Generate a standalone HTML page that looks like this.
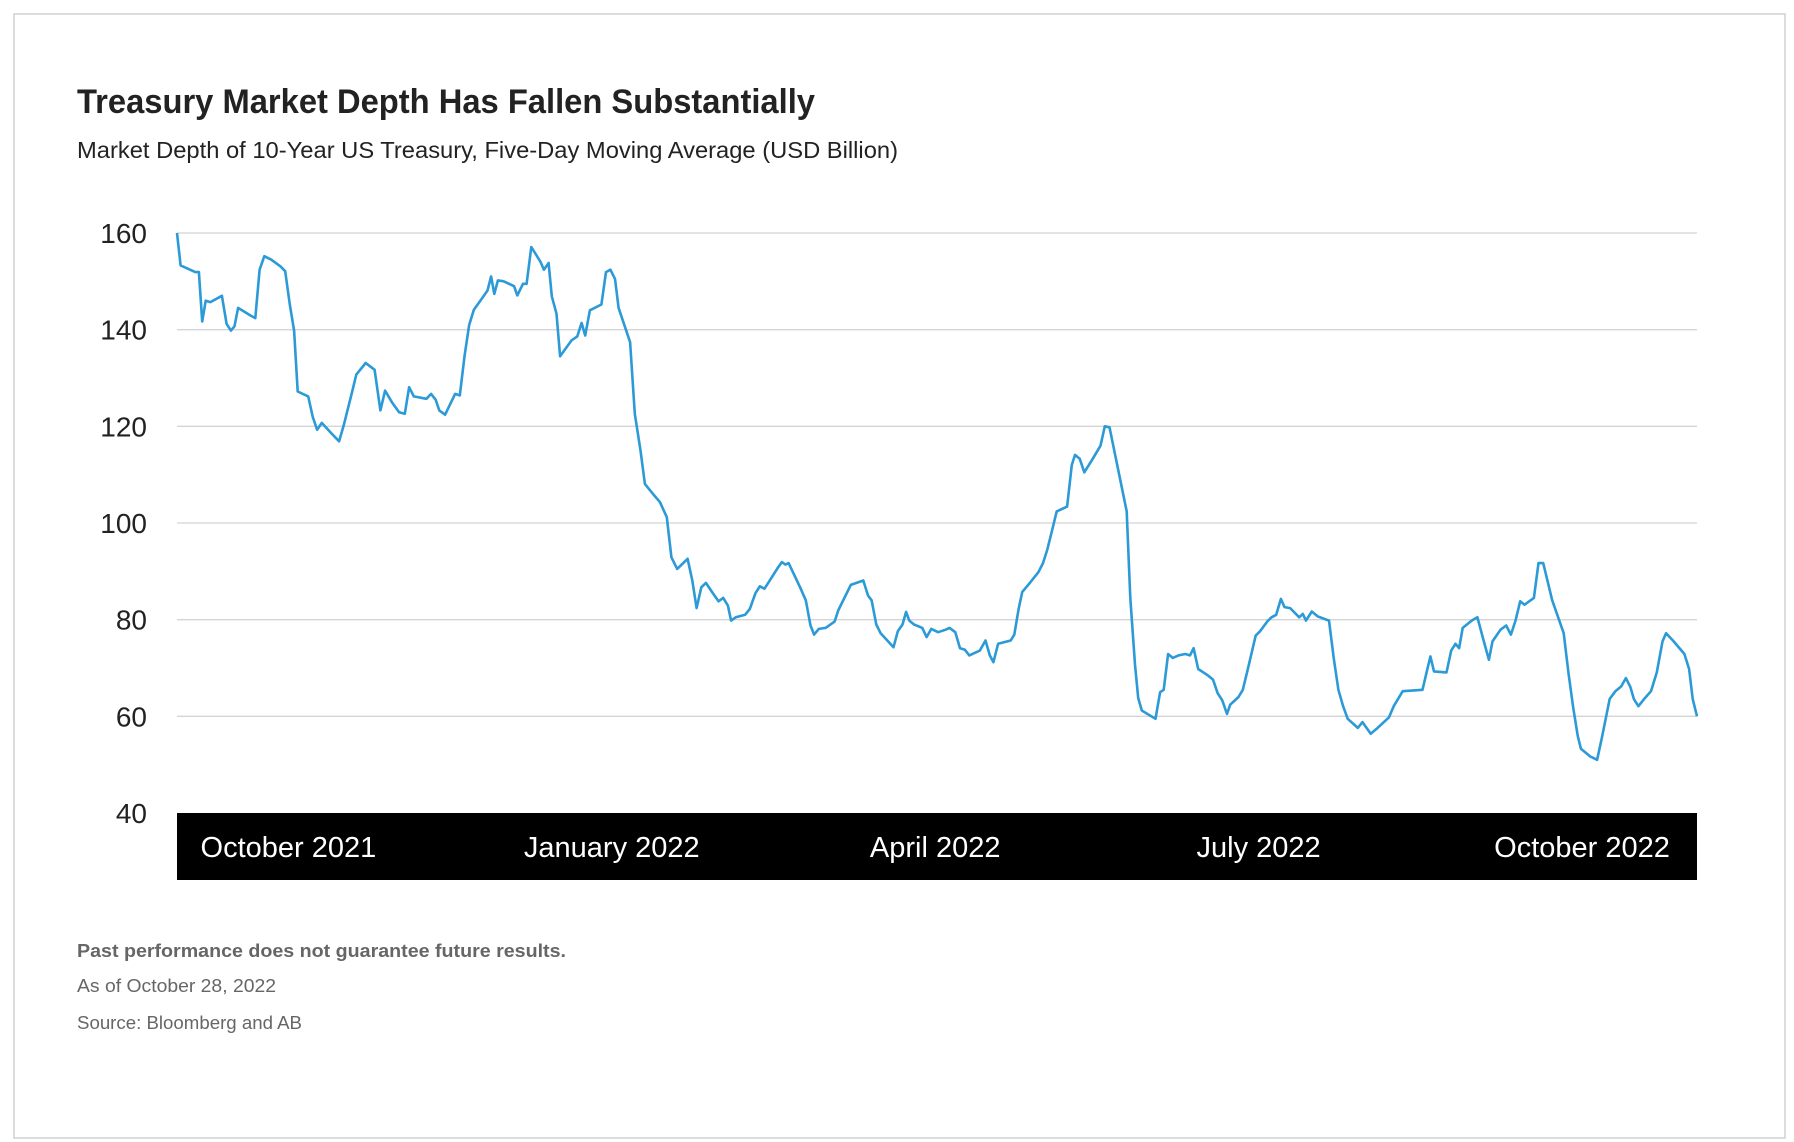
<!DOCTYPE html>
<html><head><meta charset="utf-8"><style>
html,body{margin:0;padding:0;background:#fff;}
svg{display:block;font-family:"Liberation Sans",sans-serif;}
</style></head><body>
<svg id="chart" width="1794" height="1142" viewBox="0 0 1794 1142">
<rect x="14" y="14" width="1771" height="1124" fill="#fff" stroke="#d0d0d0" stroke-width="1.5"/>
<text x="77" y="113" font-size="34" font-weight="bold" fill="#222" textLength="738" lengthAdjust="spacingAndGlyphs">Treasury Market Depth Has Fallen Substantially</text>
<text x="77" y="158" font-size="23" fill="#222" textLength="821" lengthAdjust="spacingAndGlyphs">Market Depth of 10-Year US Treasury, Five-Day Moving Average (USD Billion)</text>
<g id="grid"></g>
<g id="yaxis"></g>
<rect x="177" y="813" width="1520" height="67" fill="#000"/>
<g id="xaxis"></g>
<path id="line" fill="none" stroke="#2b9ad6" stroke-width="2.6" stroke-linejoin="round"/>
<text x="77" y="957" font-size="18" font-weight="bold" fill="#666" textLength="489" lengthAdjust="spacingAndGlyphs">Past performance does not guarantee future results.</text>
<text x="77" y="992" font-size="18" fill="#666" textLength="199" lengthAdjust="spacingAndGlyphs">As of October 28, 2022</text>
<text x="77" y="1029" font-size="18" fill="#666" textLength="225" lengthAdjust="spacingAndGlyphs">Source: Bloomberg and AB</text>
</svg>
<script>
const yTicks = [40, 60, 80, 100, 120, 140, 160];
const xLabels = ["October 2021", "January 2022", "April 2022", "July 2022", "October 2022"];
const xLabelDays = [31, 121, 211, 301, 391];
const days = [0,1,5.1,6.1,7,8,9.3,12.5,13.8,15,16,17,20.5,21.8,23,24.3,26.2,28.8,30.1,31.4,32.6,33.6,36.5,37.8,39,40.3,42.9,45.1,46.4,48.6,49.9,52.5,53.4,55,56.6,57.9,59.8,61.8,63.4,64.6,65.9,69.4,70.7,72,73,74.6,77.4,78.7,80,81.3,82.6,85.1,86.4,87.4,88.3,89.3,90.9,93.8,94.7,96.3,97.3,98.6,101.1,102.1,103.4,104.3,105.6,106.6,109.8,111.4,112.6,113.6,114.9,118.1,119.4,120.6,121.9,122.9,126.1,127.4,129,130.2,132.8,134.4,136.3,137.6,139.2,142.1,143.4,144.6,145.9,147.2,149.1,150.7,152,153.3,154.2,155.5,158.1,159.4,161,162.2,163.5,167,168.3,169.3,170.2,173.4,175,176.3,177.3,178.6,180.5,183,184,187.5,191,192.3,193.3,194.6,195.8,199.4,200.6,201.9,202.9,203.8,205.1,207.4,208.6,209.9,211.8,213.8,215,216.6,217.9,219.2,220.5,223.4,225,226.2,227.2,228.5,232,233,234.2,235.2,237.1,239.7,241,242.2,243.5,244.8,247.7,249,249.9,251.2,252.5,254.7,257,258.2,259.5,264.3,265.3,266.6,267.5,268.5,272.3,273.6,274.6,275.8,277.1,278.7,280.6,281.9,282.9,284.2,287,288.3,289.6,290.9,292.2,293.1,295.4,296.6,297.9,300.2,301.4,303.4,304.6,305.9,307.2,308.2,309.8,312.3,313.3,314.2,315.8,317.4,320.6,321.9,323.2,324.5,325.8,328.6,329.9,332.2,333.8,337.3,338.6,341.1,346.6,347.8,348.8,349.8,353.3,354.6,355.8,356.8,357.8,360.3,361.9,363.5,365.1,366.1,368.3,369.9,371.2,372.5,373.8,375,377.6,378.9,380.2,382.7,385.9,387.2,388.5,389.8,390.7,393.3,395.2,396.5,398.7,400.3,401.9,403.2,404.5,405.4,406.7,408.3,410.2,411.8,413.4,414.4,416.3,419.5,420.8,421.8,423];
const depth = [160,153.3,151.9,151.9,141.7,146,145.7,147,141.2,139.8,140.7,144.5,142.9,142.4,152.4,155.2,154.5,153.1,152.1,145.2,139.8,127.2,126.2,121.9,119.3,120.7,118.6,116.9,120.2,126.7,130.7,133.1,132.6,131.7,123.3,127.4,125,122.9,122.6,128.1,126.2,125.7,126.7,125.5,123.3,122.4,126.7,126.4,134.5,140.9,144.1,146.7,148.1,151,147.4,150.2,150,149,147.1,149.5,149.5,157.1,154.1,152.4,153.8,146.9,143.3,134.5,137.8,138.6,141.4,138.8,144,145.2,151.9,152.4,150.5,144.5,137.4,122.6,115,108.1,105.7,104.3,101.2,92.9,90.5,92.6,88.1,82.4,86.7,87.6,85.5,83.8,84.5,82.9,79.8,80.5,81,82.2,85.5,86.9,86.4,90.5,91.9,91.4,91.7,86.7,84,78.8,76.9,78.1,78.3,79.6,81.9,87.2,88.1,85,84,79,77.2,74.3,77.6,79,81.6,79.8,79,78.3,76.4,78.1,77.4,77.9,78.3,77.4,74.1,73.8,72.6,73.6,75.7,72.6,71.2,75,75.7,76.9,82.2,85.7,87.4,89.8,91.7,94.5,98.4,102.4,103.4,112,114.1,113.3,110.5,113.1,116,120,119.8,102.4,84.5,70.7,63.8,61.2,59.5,65,65.5,72.9,72.1,72.6,72.9,72.6,74.1,69.8,68.4,67.6,64.8,63.3,60.5,62.4,64,65.5,69.5,76.7,77.6,79.6,80.5,81,84.3,82.6,82.4,80.5,81.2,79.8,81.7,80.7,79.8,72.1,65.5,62.1,59.5,57.6,58.8,56.4,57.4,59.8,62.1,65.2,65.5,69.3,72.4,69.3,69.1,73.6,75,74.1,78.3,79.8,80.5,76,71.7,75.5,77.9,78.8,76.9,79.8,83.8,83.1,84.5,91.7,91.7,84,77.2,69.1,62.1,56,53.3,51.7,51,55.5,63.6,65.2,66.2,67.9,66,63.6,62.1,63.6,65.2,69.1,75.5,77.2,75.7,72.9,69.8,63.6,60];

const NS = "http://www.w3.org/2000/svg";
const X0 = 177, X1 = 1697, Y0 = 813, Y1 = 233;
const dMax = 423, vMin = 40, vMax = 160;
function xScale(d){ return X0 + (d / dMax) * (X1 - X0); }
function yScale(v){ return Y0 - (v - vMin) / (vMax - vMin) * (Y0 - Y1); }

const grid = document.getElementById('grid');
const yaxis = document.getElementById('yaxis');
yTicks.forEach(t => {
  if (t > vMin) {
    const ln = document.createElementNS(NS, 'line');
    ln.setAttribute('x1', X0); ln.setAttribute('x2', X1);
    ln.setAttribute('y1', yScale(t)); ln.setAttribute('y2', yScale(t));
    ln.setAttribute('stroke', '#d4d4d4'); ln.setAttribute('stroke-width', '1.3');
    
    
    grid.appendChild(ln);
  }
  const tx = document.createElementNS(NS, 'text');
  tx.setAttribute('x', 147); tx.setAttribute('y', yScale(t) + 10);
  tx.setAttribute('text-anchor', 'end'); tx.setAttribute('font-size', '28');
  tx.setAttribute('fill', '#222');
  tx.textContent = t;
  
  
  yaxis.appendChild(tx);
});

const xaxis = document.getElementById('xaxis');
xLabels.forEach((lab, i) => {
  const tx = document.createElementNS(NS, 'text');
  tx.setAttribute('x', xScale(xLabelDays[i])); tx.setAttribute('y', 857);
  tx.setAttribute('text-anchor', 'middle'); tx.setAttribute('font-size', '29');
  tx.setAttribute('fill', '#fff');
  tx.textContent = lab;
  
  
  xaxis.appendChild(tx);
});

let dstr = '';
days.forEach((d, i) => {
  dstr += (i ? 'L' : 'M') + xScale(d).toFixed(1) + ',' + yScale(depth[i]).toFixed(1);
});
document.getElementById('line').setAttribute('d', dstr);
</script>
</body></html>
